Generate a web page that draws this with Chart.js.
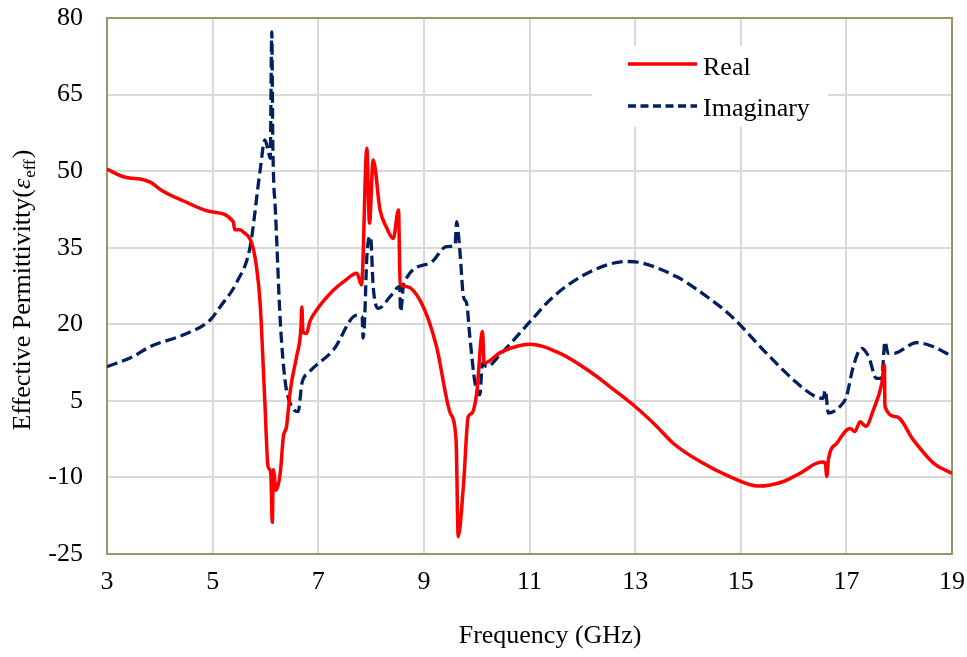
<!DOCTYPE html>
<html>
<head>
<meta charset="utf-8">
<script src="https://cdn.jsdelivr.net/npm/chart.js@4/dist/chart.umd.min.js"></script>
<style>
html,body{margin:0;padding:0;background:#fff;}
#c{display:block;}
</style>
</head>
<body>
<canvas id="c" width="967" height="657"></canvas>
<script>
// ---- data ----
const freqReal = [3.00,3.31,3.69,3.81,4.07,4.44,4.95,5.39,5.42,5.52,5.58,5.74,5.83,5.90,5.99,6.05,6.10,6.13,6.15,6.20,6.28,6.34,6.40,6.47,6.59,6.67,6.69,6.71,6.78,6.84,6.97,7.29,7.50,7.73,7.82,7.92,7.97,8.04,8.17,8.30,8.42,8.52,8.55,8.67,8.99,9.24,9.50,9.61,9.65,9.75,9.84,9.91,10.00,10.11,10.14,10.47,11.01,11.58,12.15,12.52,13.00,13.41,13.72,14.23,14.80,15.33,15.81,16.12,16.53,16.60,16.63,16.66,16.82,17.07,17.16,17.26,17.37,17.51,17.67,17.72,17.73,17.95,18.27,18.65,19.00];
const realPart = [50.4,48.9,48.3,47.9,46.0,44.2,42.1,40.1,38.5,38.5,38.1,35.9,31.3,24.1,4.5,-7.9,-9.0,-18.8,-8.5,-12.5,-9.2,-2.0,0.0,7.0,13.7,18.9,23.4,18.5,18.2,20.5,22.8,26.7,28.5,30.0,27.7,54.5,39.8,52.2,42.4,38.8,36.8,42.4,28.0,27.4,23.4,15.6,2.6,-2.7,-21.6,-11.5,1.9,2.6,6.5,18.6,12.4,14.6,16.1,14.3,10.7,7.8,3.9,0.0,-3.3,-6.9,-9.9,-11.7,-10.8,-9.2,-7.0,-7.2,-9.8,-6.5,-3.3,-0.4,-1.0,0.9,0.0,3.2,8.4,12.0,3.9,1.9,-2.7,-7.2,-9.2];
const freqImag = [3.00,3.50,3.81,4.44,4.95,5.14,5.46,5.71,5.90,5.99,6.05,6.09,6.12,6.14,6.16,6.18,6.28,6.37,6.47,6.62,6.69,6.81,7.29,7.73,7.83,7.85,7.88,7.92,7.99,8.04,8.14,8.36,8.54,8.56,8.62,9.12,9.43,9.59,9.62,9.68,9.75,9.81,9.87,9.97,10.06,10.11,10.19,10.44,11.01,11.45,12.15,12.84,13.09,13.79,14.36,14.80,15.49,16.00,16.37,16.56,16.60,16.66,16.88,17.00,17.13,17.29,17.42,17.57,17.67,17.73,17.79,17.89,18.33,18.65,19.00];
const imagPart = [11.7,13.7,15.6,17.9,20.8,23.4,28.3,35.2,50.2,56.1,54.1,52.5,77.3,55.5,47.0,44.0,20.8,9.1,4.5,2.9,8.4,10.4,15.0,21.8,21.5,17.3,21.5,33.2,37.2,27.4,23.1,25.4,27.4,22.5,28.0,32.0,35.2,35.5,40.1,34.6,25.4,24.1,17.6,8.4,6.2,12.4,11.7,14.0,20.5,25.4,30.3,32.3,32.1,29.3,25.4,21.8,14.3,9.1,6.1,5.5,7.1,2.6,3.9,5.8,11.7,15.3,13.7,9.4,9.4,16.6,14.3,14.3,16.4,15.6,13.7];
const seriesNames = ['Real','Imaginary'];
const xTicks = [3,5,7,9,11,13,15,17,19];
const yTicks = [-25,-10,5,20,35,50,65,80];
const xTitle = 'Frequency (GHz)';
const yTitleMain = 'Effective Permittivitty(';
const yTitleSym = 'ε';
const yTitleSub = 'eff';

const FONT = "'Liberation Serif','Times New Roman',serif";
const RED = '#ff0000';
const NAVY = '#002060';
const BORDER = '#9c9468';
const DASH = [11,5];

const toPts = (xs, ys) => xs.map((x,i)=>({x:x, y:ys[i]}));

const deco = {
  id: 'deco',
  beforeDatasetsDraw(chart){
    const {ctx, chartArea:a} = chart;
    ctx.save();
    ctx.strokeStyle = BORDER;
    ctx.lineWidth = 2;
    ctx.strokeRect(a.left, a.top, a.right - a.left, a.bottom - a.top);
    ctx.fillStyle = '#ffffff';
    ctx.fillRect(592, 46, 236, 81);
    ctx.restore();
  },
  afterDraw(chart){
    const {ctx} = chart;
    ctx.save();
    ctx.lineWidth = 3.5;
    ctx.strokeStyle = RED;
    ctx.setLineDash([]);
    ctx.beginPath(); ctx.moveTo(628, 64); ctx.lineTo(697, 64); ctx.stroke();
    ctx.strokeStyle = NAVY;
    ctx.lineWidth = 3.3;
    ctx.setLineDash([8,4.5]);
    ctx.beginPath(); ctx.moveTo(628, 106); ctx.lineTo(697, 106); ctx.stroke();
    ctx.setLineDash([]);
    ctx.fillStyle = '#000';
    ctx.font = '26px ' + FONT;
    ctx.textBaseline = 'alphabetic';
    ctx.textAlign = 'left';
    ctx.fillText(seriesNames[0], 703, 75);
    ctx.fillText(seriesNames[1], 703, 116);
    ctx.textAlign = 'center';
    ctx.fillText(xTitle, 550, 643);
    ctx.translate(30, 290);
    ctx.rotate(-Math.PI/2);
    ctx.textAlign = 'left';
    const fMain = '26px ' + FONT, fSym = 'italic 26px ' + FONT, fSub = '17px ' + FONT;
    ctx.font = fMain; const w1 = ctx.measureText(yTitleMain).width; const w4 = ctx.measureText(')').width;
    ctx.font = fSym; const w2 = ctx.measureText(yTitleSym).width;
    ctx.font = fSub; const w3 = ctx.measureText(yTitleSub).width;
    let x = -(w1 + w2 + w3 + w4 + 2)/2;
    ctx.font = fMain; ctx.fillText(yTitleMain, x, 0); x += w1;
    ctx.font = fSym; ctx.fillText(yTitleSym, x, 0); x += w2 + 1;
    ctx.font = fSub; ctx.fillText(yTitleSub, x, 5); x += w3 + 1;
    ctx.font = fMain; ctx.fillText(')', x, 0);
    ctx.restore();
  }
};

new Chart(document.getElementById('c'), {
  type: 'line',
  data: {
    datasets: [
      {label: seriesNames[0], data: toPts(freqReal, realPart), borderColor: RED, borderWidth: 3.5,
       pointRadius: 0, fill: false, cubicInterpolationMode: 'monotone', borderJoinStyle: 'round'},
      {label: seriesNames[1], data: toPts(freqImag, imagPart), borderColor: NAVY, borderWidth: 3.3,
       borderDash: DASH, pointRadius: 0, fill: false, cubicInterpolationMode: 'monotone', borderJoinStyle: 'round'}
    ]
  },
  options: {
    responsive: false,
    animation: false,
    devicePixelRatio: 1,
    layout: {padding: {left: 0, top: 18, right: 15, bottom: 0}},
    plugins: {legend: {display: false}, tooltip: {enabled: false}},
    scales: {
      x: {
        type: 'linear', min: 3, max: 19,
        afterBuildTicks: s => { s.ticks = xTicks.map(v => ({value: v})); },
        afterFit: s => { s.height = 103; s.paddingLeft = 0; s.paddingRight = 0; s.paddingTop = 0; s.paddingBottom = 0; },
        grid: {color: '#d9d9d9', lineWidth: 2, drawTicks: false},
        border: {display: false},
        ticks: {color: '#000', font: {family: FONT, size: 26}, padding: 13, maxRotation: 0, autoSkip: false}
      },
      y: {
        type: 'linear', min: -25, max: 80,
        afterBuildTicks: s => { s.ticks = yTicks.map(v => ({value: v})); },
        afterFit: s => { s.width = 107; s.paddingTop = 0; s.paddingBottom = 0; s.paddingLeft = 0; s.paddingRight = 0; },
        grid: {color: '#d9d9d9', lineWidth: 2, drawTicks: false},
        border: {display: false},
        ticks: {color: '#000', font: {family: FONT, size: 26}, padding: 24}
      }
    }
  },
  plugins: [deco]
});
</script>
</body>
</html>
